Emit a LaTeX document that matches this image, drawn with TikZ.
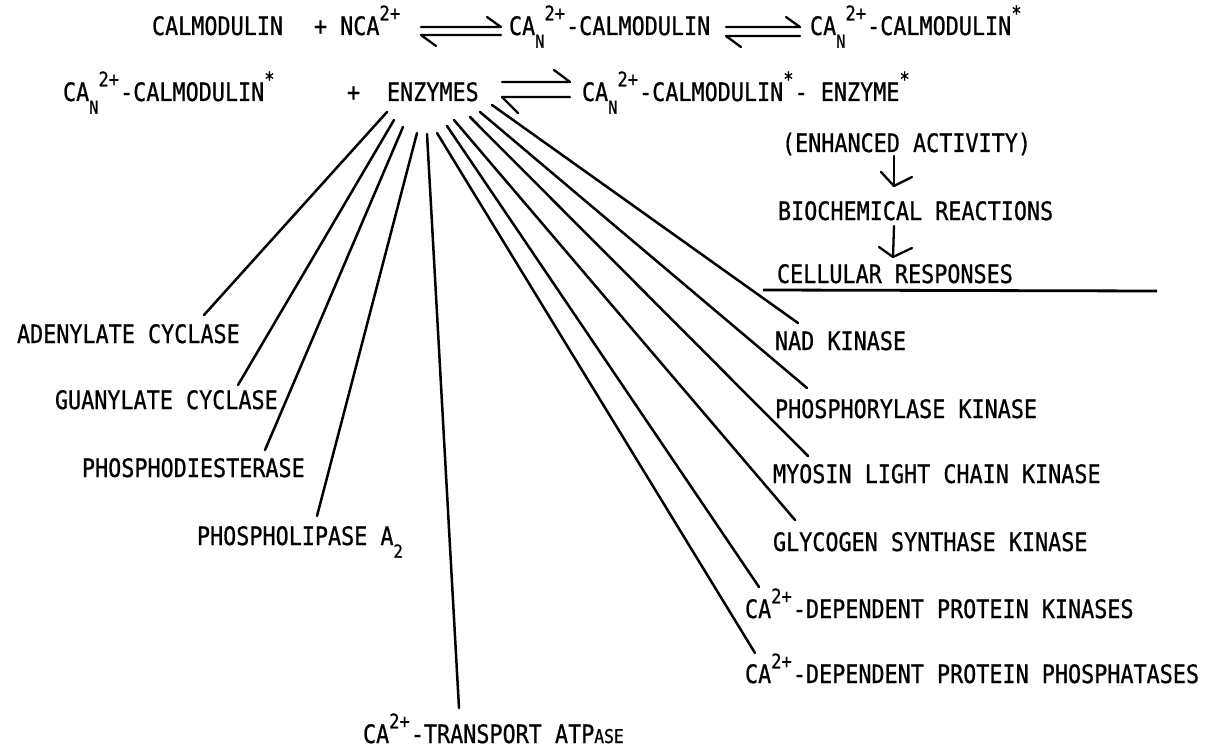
\documentclass[tikz,border=0pt]{standalone}
\usepackage{fontspec}
\setmainfont{DejaVu Sans Mono}[FakeStretch=0.857,FakeBold=0.8]
\newcommand\Up[1]{\raisebox{0.58em}{\fontsize{20}{20}\selectfont #1}\kern1pt}
\newcommand\Dn[1]{\raisebox{-0.5em}{\fontsize{18}{18}\selectfont #1}}
\newcommand\Sm[1]{{\fontsize{19}{19}\selectfont #1}}
\begin{document}
\begin{tikzpicture}[x=1pt,y=-1pt,
  lbl/.style={inner sep=0pt, outer sep=0pt, anchor=base west, font=\fontsize{25.4}{30}\selectfont},
  conn/.style={line width=2.5pt, line cap=round},
  eq/.style={line width=2.3pt, line cap=round, line join=round}]
\useasboundingbox (0,0) rectangle (1210,749);
\fill[white] (0,0) rectangle (1210,749);

% ---- row 1
\node[lbl] (cal)  at (152,35) {CALMODULIN};
\node[lbl] (nca)  at (314,35) {+ NCA\Up{2+}};
\node[lbl] (cam)  at (509,35) {CA\Dn{N}\Up{2+}-CALMODULIN};
\node[lbl] (cams) at (810,35) {CA\Dn{N}\Up{2+}-CALMODULIN\Up{*}};
% equilibrium arrows row 1
\draw[eq] (421,27) -- (501,27) -- (487,17);
\draw[eq] (501,35) -- (421,35) -- (436,46);
\draw[eq] (726,27) -- (800,27) -- (786,17);
\draw[eq] (800,36) -- (726,36) -- (741,47);

% ---- row 2
\node[lbl] (cams2) at (63,101) {CA\Dn{N}\Up{2+}-CALMODULIN\Up{*}};
\node[lbl] (plus2) at (347,101) {+};
\node[lbl] (enz)   at (387,101) {ENZYMES};
\node[lbl] (cplx)  at (582,101) {CA\Dn{N}\Up{2+}-CALMODULIN\Up{*}- ENZYME\Up{*}};
\draw[eq] (502,82) -- (570,82) -- (554,70);
\draw[eq] (570,97) -- (502,97) -- (518,113);

% ---- right column
\node[lbl] (enh)  at (782,152) {(ENHANCED ACTIVITY)};
\node[lbl] (bio)  at (778,220) {BIOCHEMICAL REACTIONS};
\node[lbl] (cell) at (777,283) {CELLULAR RESPONSES};
\coordinate (a1s) at (894,156);
\coordinate (a1e) at (894,186);
\draw[eq] (a1s) -- (a1e);
\draw[eq] (881,172) -- (a1e) -- (912,177);
\coordinate (a2s) at (894,226);
\coordinate (a2e) at (893,257);
\draw[eq] (a2s) -- (a2e);
\draw[eq] (879,247) -- (a2e) -- (912,248);
\coordinate (r1) at (763,290);
\coordinate (r2) at (1157,291);
\draw[line width=2.8pt] (r1) -- (r2);

% ---- enzyme labels
\node[lbl] (aden) at (17,343)  {ADENYLATE CYCLASE};
\node[lbl] (guan) at (55,409)  {GUANYLATE CYCLASE};
\node[lbl] (pde)  at (82,477)  {PHOSPHODIESTERASE};
\node[lbl] (pla)  at (197,545) {PHOSPHOLIPASE A\Dn{2}};
\node[lbl] (atp)  at (363,743) {CA\Up{2+}-TRANSPORT ATP\Sm{ASE}};
\node[lbl] (nad)  at (775,350) {NAD KINASE};
\node[lbl] (phk)  at (775,418) {PHOSPHORYLASE KINASE};
\node[lbl] (mlck) at (773,483) {MYOSIN LIGHT CHAIN KINASE};
\node[lbl] (gsk)  at (773,551) {GLYCOGEN SYNTHASE KINASE};
\node[lbl] (cdpk) at (745,618) {CA\Up{2+}-DEPENDENT PROTEIN KINASES};
\node[lbl] (cdpp) at (745,683) {CA\Up{2+}-DEPENDENT PROTEIN PHOSPHATASES};

% ---- connectors from ENZYMES
\coordinate (s1)  at (387,112); \coordinate (e1)  at (204,315);
\coordinate (s2)  at (394,120); \coordinate (e2)  at (238,385);
\coordinate (s3)  at (403,127); \coordinate (e3)  at (265,450);
\coordinate (s4)  at (417,133); \coordinate (e4)  at (317,516);
\coordinate (s5)  at (427,134); \coordinate (e5)  at (459,708);
\coordinate (s6)  at (437,133); \coordinate (e6)  at (755,653);
\coordinate (s7)  at (447,126); \coordinate (e7)  at (759,587);
\coordinate (s8)  at (454,120); \coordinate (e8)  at (795,520);
\coordinate (s9)  at (470,117); \coordinate (e9)  at (808,456);
\coordinate (s10) at (480,112); \coordinate (e10) at (807,388);
\coordinate (s11) at (492,105); \coordinate (e11) at (798,323);
\foreach \i in {1,...,11} \draw[conn] (s\i) -- (e\i);
\end{tikzpicture}
\end{document}
